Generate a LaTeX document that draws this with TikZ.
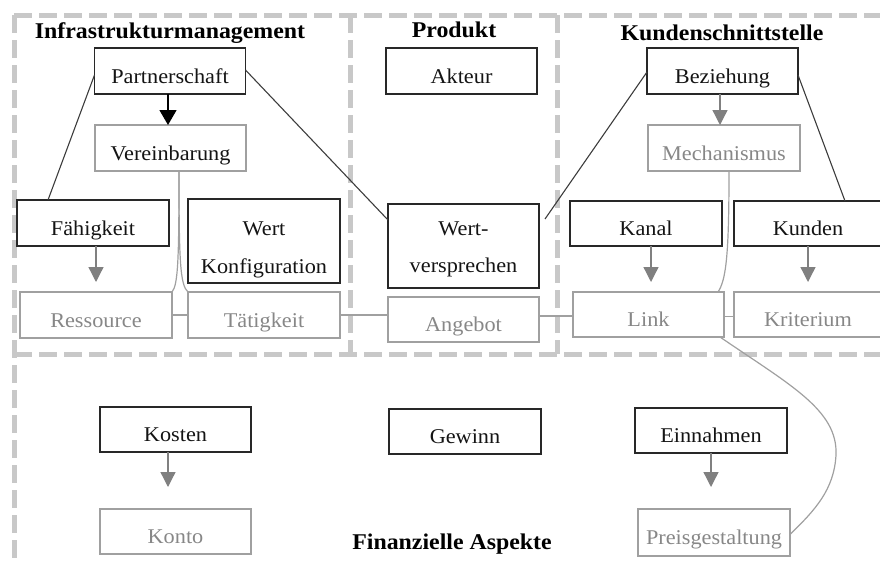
\documentclass[tikz,border=0pt]{standalone}
\usepackage{fontspec}
\setmainfont{Liberation Serif}[FakeStretch=1.06]
\usetikzlibrary{arrows.meta}

\definecolor{framegray}{RGB}{200,200,200}
\definecolor{darkline}{RGB}{40,40,40}
\definecolor{lightline}{RGB}{160,160,160}
\definecolor{graytext}{RGB}{135,135,135}
\definecolor{grayarrow}{RGB}{128,128,128}
\definecolor{linkline}{RGB}{60,60,60}
\definecolor{inktext}{RGB}{20,20,20}

\begin{document}
\begin{tikzpicture}[x=1pt, y=-1pt,
  frame/.style={draw=framegray, line width=5pt, dash pattern=on 18pt off 7pt},
  boxbase/.style={rectangle, inner sep=0pt, outer sep=0pt,
    minimum width=151pt, minimum height=46pt,
    font=\fontsize{21pt}{25pt}\selectfont, text height=26pt, text depth=2pt},
  darkbox/.style={boxbase, draw=darkline, line width=1.4pt, text=inktext},
  lightbox/.style={boxbase, draw=lightline, line width=1.2pt, text=graytext},
  lbl/.style={anchor=base, inner sep=0pt, font=\fontsize{21pt}{25pt}\selectfont, text=inktext},
  heading/.style={anchor=base, inner sep=0pt, font=\fontsize{22.5pt}{26pt}\selectfont\bfseries, text=black},
  blackarrow/.style={draw=black, line width=1.4pt, -{Triangle[length=15pt,width=17pt]}},
  grayarr/.style={draw=grayarrow, line width=1.3pt, -{Triangle[length=15pt,width=15pt]}},
  relation/.style={draw=linkline, line width=1.1pt},
  soft/.style={draw=lightline, line width=1.2pt},
]
\useasboundingbox (0,0) rectangle (880,565);

% dashed section frames
\draw[frame] (14,15) -- (895,15);
\draw[frame] (14,15) -- (14,560);
\draw[frame] (14,354) -- (895,354);
\draw[frame] (350,15) -- (350,354);
\draw[frame] (557,15) -- (557,354);

% section headings
\node[heading] (h-infra) at (170,38) {Infrastrukturmanagement};
\node[heading] (h-prod) at (454,37) {Produkt};
\node[heading] (h-kunde) at (722,40) {Kundenschnittstelle};
\node[heading] (h-fin) at (452,549) {Finanzielle Aspekte};

% infrastructure management
\node[darkbox] (partner) at (170,71) {Partnerschaft};
\node[lightbox, text=inktext] (verein) at (170.5,148) {Vereinbarung};
\node[darkbox, minimum width=152pt] (faeh) at (93,223) {Fähigkeit};
\node[darkbox, minimum width=152pt, minimum height=84pt] (wk) at (264,241) {};
\node[lbl] (wk-a) at (264,235) {Wert};
\node[lbl] (wk-b) at (264,273) {Konfiguration};
\node[lightbox, minimum width=152pt] (ress) at (96,315) {Ressource};
\node[lightbox, minimum width=152pt] (taet) at (264,315) {Tätigkeit};

% product
\node[darkbox] (akteur) at (461.5,71) {Akteur};
\node[darkbox, minimum height=84pt] (wv) at (463.5,246) {};
\node[lbl] (wv-a) at (463.5,235) {Wert-};
\node[lbl] (wv-b) at (463.5,272) {versprechen};
\node[lightbox, minimum height=45pt] (ang) at (463.5,319.5) {Angebot};

% customer interface
\node[darkbox] (bez) at (722.5,71) {Beziehung};
\node[lightbox, minimum width=152pt] (mech) at (724,148) {Mechanismus};
\node[darkbox, minimum width=152pt, minimum height=45pt] (kanal) at (646,223.5) {Kanal};
\node[darkbox, minimum width=148pt, minimum height=45pt] (kund) at (808,223.5) {Kunden};
\node[lightbox, minimum height=45pt] (link) at (648.5,314.5) {Link};
\node[lightbox, minimum width=148pt, minimum height=45pt] (krit) at (808,314.5) {Kriterium};

% financial aspects
\node[darkbox, minimum height=45pt] (kost) at (175.5,429.5) {Kosten};
\node[darkbox, minimum width=152pt, minimum height=45pt] (gew) at (465,431.5) {Gewinn};
\node[darkbox, minimum width=152pt, minimum height=45pt] (einn) at (711,430.5) {Einnahmen};
\node[lightbox, minimum height=45pt] (konto) at (175.5,531.5) {Konto};
\node[lightbox, minimum width=152pt, minimum height=47pt] (preis) at (714,532.5) {Preisgestaltung};

% arrows
\draw[blackarrow] ([xshift=-2pt]partner.south) -- ([xshift=-2.5pt]verein.north);
\draw[grayarr] ([xshift=-2.5pt]bez.south) -- ([xshift=-4pt]mech.north);
\coordinate (faeh-tip) at (96,282);
\coordinate (kanal-tip) at (651,282);
\coordinate (kund-tip) at (808,282);
\coordinate (kost-tip) at (168,487);
\coordinate (einn-tip) at (711,487);
\draw[grayarr] (faeh.south -| faeh-tip) -- (faeh-tip);
\draw[grayarr] (kanal.south -| kanal-tip) -- (kanal-tip);
\draw[grayarr] (kund.south -| kund-tip) -- (kund-tip);
\draw[grayarr] (kost.south -| kost-tip) -- (kost-tip);
\draw[grayarr] (einn.south -| einn-tip) -- (einn-tip);

% relations between building blocks
\draw[relation] ([yshift=-4pt]partner.west) -- ([xshift=-45pt]faeh.north);
\draw[relation] ([yshift=1pt]partner.east) -- ([yshift=26pt]wv.west);
\draw[relation] ([yshift=27pt,xshift=6pt]wv.east) -- ([yshift=-1pt]bez.west);
\draw[relation] ([yshift=-4pt]bez.east) -- ([xshift=37pt]kund.north);

% links between the lower level elements
\draw[soft] (ress.east) -- (taet.west);
\draw[soft] (taet.east) -- (taet.east -| ang.west);
\draw[soft] ([yshift=-1.5pt]link.west) -- ([yshift=-1.5pt]link.west -| ang.east);
\draw[soft] ([yshift=-2pt]link.east) -- ([yshift=-2pt]link.east -| krit.west);

% curved links
\draw[soft] ([xshift=8.5pt]verein.south) .. controls +(0,89) and +(6,-7) .. (ress.north east);
\draw[soft] ([xshift=8.5pt]verein.south) .. controls +(0,89) and +(-8,-7) .. (taet.north west);
\draw[soft] ([xshift=5pt]mech.south) .. controls +(0,85) and +(8,-12) .. ([xshift=-6pt]link.north east);
\coordinate (swing) at (836,455);
\draw[soft] ([xshift=-4pt]link.south east) .. controls (790,385) and (838,410) .. (swing)
  .. controls (834,490) and (815,510) .. ([yshift=-2pt]preis.east);
\end{tikzpicture}
\end{document}
